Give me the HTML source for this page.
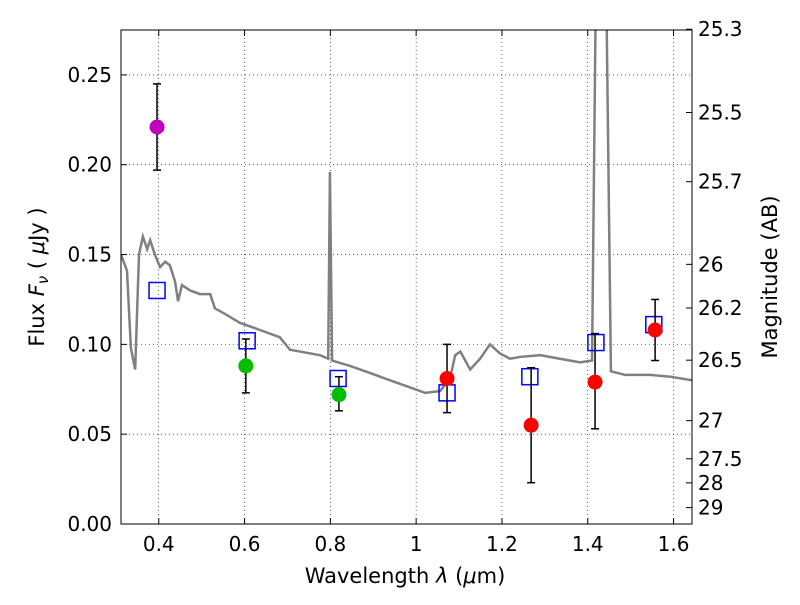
<!DOCTYPE html>
<html><head><meta charset="utf-8"><style>
body{margin:0;background:#fff}
svg text{font-family:"DejaVu Sans","Liberation Sans",sans-serif;fill:#000}
</style></head><body>
<svg id="chart" width="800" height="600">
<defs><clipPath id="clip"><rect x="121" y="30" width="571" height="494"/></clipPath></defs>
<g id="grid"></g>
<g id="spec" clip-path="url(#clip)"></g>
<g id="marks"></g>
<rect x="121" y="30" width="571" height="494" fill="none" stroke="#000" stroke-width="1"/>
<g id="axes"></g>
<text x="405" y="583" text-anchor="middle" font-size="21">Wavelength  <tspan font-style="italic">λ</tspan> (<tspan font-style="italic">μ</tspan>m)</text>
<text transform="translate(44,277) rotate(-90)" text-anchor="middle" font-size="21">Flux  <tspan font-style="italic">F</tspan><tspan font-style="italic" font-size="15" dy="4">ν</tspan><tspan dy="-4">  ( </tspan><tspan font-style="italic">μ</tspan>Jy )</text>
<text transform="translate(777,277) rotate(-90)" text-anchor="middle" font-size="21">Magnitude (AB)</text>
</svg>
<script>
const xTicks=[0.4,0.6,0.8,1.0,1.2,1.4,1.6];
const xTickLabels=["0.4","0.6","0.8","1","1.2","1.4","1.6"];
const yTicks=[0,0.05,0.10,0.15,0.20,0.25];
const yTickLabels=["0.00","0.05","0.10","0.15","0.20","0.25"];
const magTicks=[25.3,25.5,25.7,26,26.2,26.5,27,27.5,28,29];
const magTickLabels=["25.3","25.5","25.7","26","26.2","26.5","27","27.5","28","29"];
const specWave=[0.312,0.326,0.335,0.345,0.354,0.363,0.373,0.380,0.391,0.403,0.415,0.426,0.438,0.445,0.454,0.473,0.496,0.520,0.531,0.554,0.589,0.636,0.682,0.706,0.729,0.776,0.795,0.799,0.804,0.846,0.893,0.939,0.986,1.021,1.056,1.079,1.091,1.103,1.126,1.149,1.172,1.195,1.219,1.242,1.289,1.335,1.382,1.410,1.419,1.436,1.443,1.454,1.487,1.546,1.592,1.643];
const specFlux=[0.150,0.141,0.098,0.086,0.150,0.160,0.153,0.158,0.150,0.143,0.146,0.144,0.135,0.124,0.133,0.130,0.128,0.128,0.120,0.117,0.112,0.108,0.104,0.097,0.096,0.094,0.092,0.196,0.091,0.088,0.084,0.080,0.076,0.073,0.074,0.081,0.094,0.096,0.086,0.092,0.100,0.095,0.092,0.093,0.094,0.092,0.090,0.091,0.300,0.300,0.300,0.085,0.083,0.083,0.082,0.080];
const ptWave=[0.396,0.603,0.820,1.072,1.268,1.417,1.557];
const ptFlux=[0.221,0.088,0.072,0.081,0.055,0.079,0.108];
const ptLow=[0.197,0.073,0.063,0.062,0.023,0.053,0.091];
const ptHigh=[0.245,0.103,0.082,0.100,0.087,0.106,0.125];
const ptColor=["#bf00bf","#00bf00","#00bf00","#ff0000","#ff0000","#ff0000","#ff0000"];
const modelWave=[0.396,0.606,0.818,1.072,1.265,1.419,1.554];
const modelFlux=[0.130,0.102,0.081,0.073,0.082,0.101,0.111];

const X0=121,X1=692,Y0=524,Y1=30,xmin=0.312,xmax=1.643,ymin=0,ymax=0.275;
const sx=v=>X0+(v-xmin)/(xmax-xmin)*(X1-X0);
const sy=v=>Y0-(v-ymin)/(ymax-ymin)*(Y0-Y1);
const NS="http://www.w3.org/2000/svg";
function mk(tag,attrs,parent){const e=document.createElementNS(NS,tag);for(const k in attrs)e.setAttribute(k,attrs[k]);parent.appendChild(e);return e;}
const grid=document.getElementById('grid'),axes=document.getElementById('axes'),spec=document.getElementById('spec'),marks=document.getElementById('marks');
xTicks.forEach((t,i)=>{const x=sx(t);
 const g=mk('line',{x1:x,x2:x,y1:Y1,y2:Y0,stroke:'#000','stroke-dasharray':'1,3','stroke-width':0.6},grid);
 
 mk('line',{x1:x,x2:x,y1:Y0,y2:Y0-6,stroke:'#000'},axes);mk('line',{x1:x,x2:x,y1:Y1,y2:Y1+6,stroke:'#000'},axes);
 const tx=mk('text',{x:x,y:Y0+27,'text-anchor':'middle','font-size':20},axes);tx.textContent=xTickLabels[i];
 });
yTicks.forEach((t,i)=>{const y=sy(t);
 if(i>0){const g=mk('line',{x1:X0,x2:X1,y1:y,y2:y,stroke:'#000','stroke-dasharray':'1,3','stroke-width':0.6},grid);
 }
 mk('line',{x1:X0,x2:X0+6,y1:y,y2:y,stroke:'#000'},axes);
 const tx=mk('text',{x:X0-9,y:y+7,'text-anchor':'end','font-size':20},axes);tx.textContent=yTickLabels[i];
 });
magTicks.forEach((m,i)=>{const y=sy(Math.pow(10,(23.9-m)/2.5));
 mk('line',{x1:X1,x2:X1-6,y1:y,y2:y,stroke:'#000'},axes);
 const tx=mk('text',{x:X1+6,y:y+7,'font-size':20},axes);tx.textContent=magTickLabels[i];
 });
const pl=mk('polyline',{points:specWave.map((w,i)=>sx(w)+','+sy(specFlux[i])).join(' '),fill:'none',stroke:'#808080','stroke-width':2.5},spec);

modelWave.forEach((w,i)=>{const x=sx(w),y=sy(modelFlux[i]);
 const r=mk('rect',{x:x-8,y:y-8,width:16,height:16,fill:'none',stroke:'#0000ff','stroke-width':1.5},marks);
 });
ptWave.forEach((w,i)=>{const x=sx(w);
 const e=mk('g',{},marks);
 
 mk('line',{x1:x,x2:x,y1:sy(ptLow[i]),y2:sy(ptHigh[i]),stroke:'#000','stroke-width':1.5},e);
 mk('line',{x1:x-4,x2:x+4,y1:sy(ptLow[i]),y2:sy(ptLow[i]),stroke:'#000','stroke-width':1.5},e);
 mk('line',{x1:x-4,x2:x+4,y1:sy(ptHigh[i]),y2:sy(ptHigh[i]),stroke:'#000','stroke-width':1.5},e);
 const c=mk('circle',{cx:x,cy:sy(ptFlux[i]),r:7.5,fill:ptColor[i]},marks);
 });
</script>
</body></html>
